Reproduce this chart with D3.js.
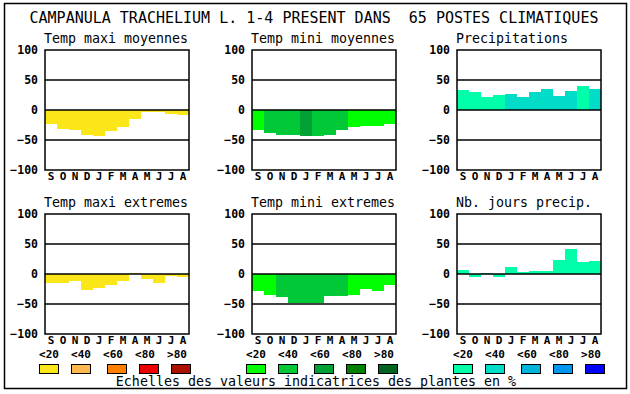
<!DOCTYPE html>
<html>
<head>
<meta charset="utf-8">
<script src="https://d3js.org/d3.v7.min.js"></script>
<style>
  body { margin: 0; background: white; }
  svg text { font-family: "DejaVu Sans Mono", "Liberation Mono", monospace; fill: black; }
  .tick text { font-weight: bold; font-size: 11.5px; }
  .months .tick text { font-size: 11px; }
  .domain { display: none; }
</style>
</head>
<body>
<svg id="chart" width="630" height="394"></svg>
<script>
// month labels, september -> august
var months = ["S","O","N","D","J","F","M","A","M","J","J","A"];
var yTicks = [100, 50, 0, -50, -100];

// values (% indicator values)
var tmaxMoy = [-23,-32,-33,-42,-43,-35,-28,-15,-3,-3,-7,-8];
var tmaxMoyCls = [0,0,0,0,0,0,0,0,0,0,0,0];
var tminMoy = [-33,-38,-41,-41,-44,-44,-41,-33,-28,-26,-26,-23];
var tminMoyCls = [0,1,1,1,2,1,1,1,0,0,0,0];
var precip = [33,30,22,25,27,22,30,35,23,32,40,35];
var precipCls = [0,0,0,0,1,1,1,1,1,1,0,1];
var tmaxExt = [-15,-15,-12,-27,-23,-18,-12,2,-8,-15,-3,-5];
var tmaxExtCls = [0,0,0,0,0,0,0,0,0,0,0,0];
var tminExt = [-28,-35,-38,-48,-48,-48,-37,-37,-35,-25,-28,-18];
var tminExtCls = [0,0,1,1,1,1,1,1,0,0,0,0];
var nbJours = [7,-5,2,-5,12,3,5,5,23,42,20,22];
var nbJoursCls = [0,0,0,0,0,0,0,0,0,0,0,0];

var legendLabels = ["<20","<40","<60","<80",">80"];
var yellows = ["#fae619","#ffb84d","#ff8000","#ee0000","#aa1000"];
var greens = ["#00ff00","#00c837","#00a032","#008000","#006420"];
var blues = ["#00ffaa","#00dcc8","#00b4dc","#0096f0","#0000ff"];

var svg = d3.select("#chart");

svg.append("rect")
  .attr("x", 4.5).attr("y", 3.5).attr("width", 622).attr("height", 385)
  .attr("fill", "none").attr("stroke", "black").attr("stroke-width", 1.5);

svg.append("text")
  .attr("x", 314).attr("y", 23)
  .attr("text-anchor", "middle")
  .style("font-size", "15px")
  .style("white-space", "pre")
  .attr("xml:space", "preserve")
  .text("CAMPANULA TRACHELIUM L. 1-4 PRESENT DANS  65 POSTES CLIMATIQUES");

var panels = [
  {title: "Temp maxi moyennes", vals: tmaxMoy, cls: tmaxMoyCls, pal: yellows, left: 45, top: 50},
  {title: "Temp mini moyennes", vals: tminMoy, cls: tminMoyCls, pal: greens, left: 252, top: 50},
  {title: "Precipitations", vals: precip, cls: precipCls, pal: blues, left: 457, top: 50},
  {title: "Temp maxi extremes", vals: tmaxExt, cls: tmaxExtCls, pal: yellows, left: 45, top: 214},
  {title: "Temp mini extremes", vals: tminExt, cls: tminExtCls, pal: greens, left: 252, top: 214},
  {title: "Nb. jours precip.", vals: nbJours, cls: nbJoursCls, pal: blues, left: 457, top: 214}
];

var W = 144, H = 120;

panels.forEach(function(p) {
  var g = svg.append("g").attr("transform", "translate(" + p.left + "," + p.top + ")");
  var x = d3.scaleBand().domain(d3.range(12)).range([0, W]).padding(0);
  var y = d3.scaleLinear().domain([-100, 100]).range([H, 0]);

  g.append("text")
    .attr("x", -1).attr("y", -7)
    .style("font-size", "13.3px")
    .text(p.title);

  g.selectAll("rect.bar")
    .data(p.vals)
    .enter()
    .append("rect")
    .attr("class", "bar")
    .attr("x", function(d, i) { return x(i); })
    .attr("width", x.bandwidth())
    .attr("y", function(d) { return y(Math.max(d, 0)); })
    .attr("height", function(d) { return Math.abs(y(d) - y(0)); })
    .attr("fill", function(d, i) { return p.pal[p.cls[i]]; })
    .attr("shape-rendering", "crispEdges");

  g.selectAll("line.grid")
    .data([50, 0, -50])
    .enter()
    .append("line")
    .attr("class", "grid")
    .attr("x1", 0).attr("x2", W)
    .attr("y1", function(d) { return y(d); })
    .attr("y2", function(d) { return y(d); })
    .attr("stroke", "black").attr("stroke-width", 1.5);

  g.append("rect")
    .attr("width", W).attr("height", H)
    .attr("fill", "none").attr("stroke", "black").attr("stroke-width", 1.5);

  g.append("g")
    .call(d3.axisLeft(y).tickValues(yTicks).tickSize(0).tickPadding(7));

  g.append("g")
    .attr("class", "months")
    .attr("transform", "translate(0," + H + ")")
    .call(d3.axisBottom(x).tickSize(0).tickPadding(2).tickFormat(function(i) { return months[i]; }));
});

// legends
var legendGroups = [
  {pal: yellows, left: 39},
  {pal: greens, left: 246},
  {pal: blues, left: 453}
];
var labelOff = [0, 32, 64, 96, 128];
var boxOff = [0, 32, 68, 100, 132];

legendGroups.forEach(function(lg) {
  var g = svg.append("g").attr("transform", "translate(" + lg.left + ",0)");
  g.selectAll("text")
    .data(legendLabels)
    .enter()
    .append("text")
    .attr("x", function(d, i) { return labelOff[i] + 10; })
    .attr("y", 358)
    .attr("text-anchor", "middle")
    .style("font-size", "11px")
    .style("font-weight", "bold")
    .text(function(d) { return d; });
  g.selectAll("rect")
    .data(lg.pal)
    .enter()
    .append("rect")
    .attr("x", function(d, i) { return boxOff[i] + 0.5; })
    .attr("y", 364.5)
    .attr("width", 19).attr("height", 9)
    .attr("fill", function(d) { return d; })
    .attr("stroke", "black").attr("stroke-width", 1);
});

svg.append("text")
  .attr("x", 316).attr("y", 386)
  .attr("text-anchor", "middle")
  .style("font-size", "13.3px")
  .text("Echelles des valeurs indicatrices des plantes en %");
</script>
</body>
</html>
